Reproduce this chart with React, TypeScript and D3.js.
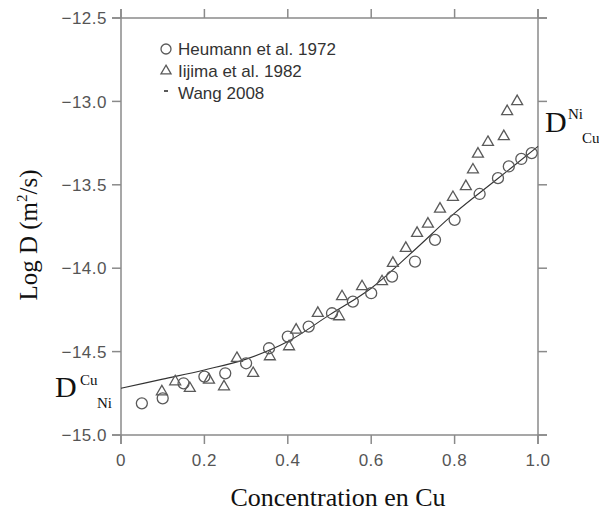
import React from "react";
import * as d3 from "d3";

const heumannX = [0.05, 0.1, 0.15, 0.2, 0.25, 0.3, 0.355, 0.4, 0.45, 0.506, 0.556, 0.6, 0.65, 0.705, 0.753, 0.8, 0.86, 0.904, 0.93, 0.96, 0.985];
const heumannY = [-14.81, -14.78, -14.69, -14.65, -14.63, -14.57, -14.48, -14.41, -14.35, -14.27, -14.2, -14.15, -14.05, -13.96, -13.83, -13.71, -13.555, -13.46, -13.39, -13.345, -13.31];

const iijimaX = [0.098, 0.13, 0.165, 0.211, 0.247, 0.278, 0.317, 0.357, 0.403, 0.42, 0.472, 0.523, 0.53, 0.578, 0.626, 0.652, 0.683, 0.71, 0.736, 0.765, 0.796, 0.827, 0.844, 0.856, 0.88, 0.918, 0.926, 0.95];
const iijimaY = [-14.74, -14.68, -14.72, -14.67, -14.71, -14.54, -14.63, -14.53, -14.47, -14.37, -14.27, -14.29, -14.17, -14.11, -14.08, -13.97, -13.88, -13.79, -13.735, -13.645, -13.575, -13.51, -13.41, -13.315, -13.245, -13.21, -13.06, -13.0];

const wangX = [0, 0.1, 0.2, 0.3, 0.4, 0.5, 0.6, 0.7, 0.8, 0.9, 1.0];
const wangY = [-14.72, -14.665, -14.61, -14.545, -14.44, -14.28, -14.12, -13.9, -13.67, -13.47, -13.27];

const xTicks = [0, 0.2, 0.4, 0.6, 0.8, 1.0];
const xTickLabels = ["0", "0.2", "0.4", "0.6", "0.8", "1.0"];
const yTicks = [-12.5, -13.0, -13.5, -14.0, -14.5, -15.0];
const yTickLabels = ["\u221212.5", "\u221213.0", "\u221213.5", "\u221214.0", "\u221214.5", "\u221215.0"];

const legendLabels = ["Heumann et al. 1972", "Iijima et al. 1982", "Wang 2008"];

export default function App() {
  const W = 599, H = 513;
  const x = d3.scaleLinear().domain([0, 1]).range([121, 538]);
  const y = d3.scaleLinear().domain([-15, -12.5]).range([435, 18]);
  const axisColor = "#8a8a8a";
  const labelColor = "#555";
  const markColor = "#5a5a5a";
  const sans = "'Liberation Sans', Arial, Helvetica, sans-serif";
  const serif = "'Liberation Serif', 'Times New Roman', serif";
  const tri = d3.symbol(d3.symbolTriangle, 52)() as string;
  const line = d3
    .line<number>()
    .x((_, i) => x(wangX[i]))
    .y((d) => y(d))
    .curve(d3.curveCatmullRom);
  const tk = 9;
  const [x0, x1] = x.range();
  const [yb, yt] = y.range();

  return (
    <svg width={W} height={H} style={{ position: "absolute", left: 0, top: 0, background: "#fff" }}>
      {/* frame */}
      <g stroke={axisColor} strokeWidth={1.5} fill="none">
        <line x1={x0 - tk} x2={x1 + tk} y1={yt} y2={yt} />
        <line x1={x0 - tk} x2={x1 + tk} y1={yb} y2={yb} />
        <line x1={x0} x2={x0} y1={yt - tk} y2={yb + tk} />
        <line x1={x1} x2={x1} y1={yt - tk} y2={yb + tk} />
        {xTicks.map((t, i) => (
          <g key={"xt" + i}>
            <line x1={x(t)} x2={x(t)} y1={yb} y2={yb + tk} />
            <line x1={x(t)} x2={x(t)} y1={yt} y2={yt - tk} />
          </g>
        ))}
        {yTicks.map((t, i) => (
          <g key={"yt" + i}>
            <line x1={x0 - tk} x2={x0} y1={y(t)} y2={y(t)} />
            <line x1={x1} x2={x1 + tk} y1={y(t)} y2={y(t)} />
          </g>
        ))}
      </g>
      {/* tick labels */}
      <g fontFamily={sans} fontSize={17} fill={labelColor}>
        {yTicks.map((t, i) => (
          <text key={"yl" + i} x={107} y={y(t)} dy="0.36em" textAnchor="end" letterSpacing={0.5}>
            {yTickLabels[i]}
          </text>
        ))}
        {xTicks.map((t, i) => (
          <text key={"xl" + i} x={x(t)} y={466} textAnchor="middle" letterSpacing={0.5}>
            {xTickLabels[i]}
          </text>
        ))}
      </g>
      {/* Wang line */}
      <path d={line(wangY) as string} fill="none" stroke="#333" strokeWidth={1.1} />
      {/* Heumann circles */}
      <g fill="none" stroke={markColor} strokeWidth={1.3}>
        {heumannX.map((v, i) => (
          <circle key={"h" + i} cx={x(v)} cy={y(heumannY[i])} r={5.5} />
        ))}
      </g>
      {/* Iijima triangles */}
      <g fill="none" stroke={markColor} strokeWidth={1.3}>
        {iijimaX.map((v, i) => (
          <path key={"t" + i} d={tri} transform={`translate(${x(v)},${y(iijimaY[i])})`} />
        ))}
      </g>
      {/* legend */}
      <g fontFamily={sans} fontSize={17} fill="#333">
        <circle cx={166} cy={49} r={5} fill="none" stroke={markColor} strokeWidth={1.3} />
        <text x={178} y={55}>{legendLabels[0]}</text>
        <path d={d3.symbol(d3.symbolTriangle, 44)() as string} transform="translate(166,71)" fill="none" stroke={markColor} strokeWidth={1.3} />
        <text x={178} y={77}>{legendLabels[1]}</text>
        <line x1={164} x2={168} y1={91} y2={91} stroke="#222" strokeWidth={1.5} />
        <text x={178} y={99}>{legendLabels[2]}</text>
      </g>
      {/* D labels */}
      <g fontFamily={serif} fill="#111">
        <text x={55} y={397} fontSize={30}>D</text>
        <text x={80} y={385} fontSize={15}>Cu</text>
        <text x={97} y={408} fontSize={15}>Ni</text>
        <text x={545} y={132} fontSize={30}>D</text>
        <text x={568} y={119} fontSize={15}>Ni</text>
        <text x={582} y={143} fontSize={15}>Cu</text>
      </g>
      {/* axis titles */}
      <text x={338} y={506} textAnchor="middle" fontFamily={serif} fontSize={26} fill="#111">
        Concentration en Cu
      </text>
      <text
        transform={`translate(37,${235}) rotate(-90)`}
        textAnchor="middle"
        fontFamily={serif}
        fontSize={25}
        fill="#111"
      >
        Log D (m<tspan dy={-10} fontSize={15}>2</tspan>
        <tspan dy={10}>/s)</tspan>
      </text>
    </svg>
  );
}
